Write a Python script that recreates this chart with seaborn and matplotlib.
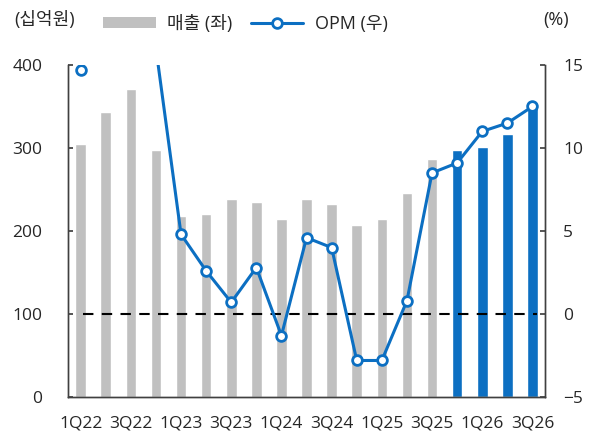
import numpy as np
import pandas as pd
import seaborn as sns
import matplotlib.pyplot as plt
from matplotlib.lines import Line2D
from matplotlib.patches import Patch

# quarters, sales (십억원) and OPM (%)
quarters = ["1Q22", "2Q22", "3Q22", "4Q22", "1Q23", "2Q23", "3Q23", "4Q23",
            "1Q24", "2Q24", "3Q24", "4Q24", "1Q25", "2Q25", "3Q25", "4Q25",
            "1Q26", "2Q26", "3Q26"]
sales = [305, 343, 371, 297, 218, 220, 238, 235, 215, 238, 233, 207, 215,
         246, 287, 297, 301, 317, 349]
opm = [14.7, 19.0, 20.5, 16.0, 4.8, 2.6, 0.7, 2.8, -1.3, 4.6, 4.0, -2.8,
       -2.8, 0.8, 8.5, 9.1, 11.0, 11.5, 12.5]
kind = ["actual"] * 15 + ["forecast"] * 4

sns.set_theme(style="white")
plt.rcParams["font.family"] = ["Open Sans", "Noto Sans CJK KR", "DejaVu Sans"]

GRAY = "#c0c0c0"
BLUE = "#0c6fc2"
AXC = "#404040"

df = pd.DataFrame({"q": quarters, "sales": sales, "opm": opm, "kind": kind})
df["pos"] = np.arange(len(df))

fig = plt.figure(figsize=(5.92, 4.38), dpi=100)
ax = fig.add_axes([0.115, 0.0936, 0.8056, 0.758])

sns.barplot(data=df, x="q", y="sales", hue="kind", palette={"actual": GRAY, "forecast": BLUE},
            dodge=False, width=0.42, legend=False, ax=ax, saturation=1)
ax.set_xlim(-0.5, len(df) - 0.5)
ax.set_ylim(0, 400)
ax.set_yticks(range(0, 401, 100))
ax.set_xlabel("")
ax.set_ylabel("")

ax2 = ax.twinx()
ax2.hlines(0, 0.1, 18.2, colors="black", linestyles=(0, (5, 4)), linewidth=1.5)
sns.lineplot(data=df, x="pos", y="opm", color=BLUE, linewidth=2.2, marker="o",
             markersize=7, markerfacecolor="white", markeredgecolor=BLUE,
             markeredgewidth=2, ax=ax2)
ax2.set_ylim(-5, 15)
ax2.set_yticks(range(-5, 16, 5))
ax2.set_xlim(-0.5, len(df) - 0.5)
ax2.set_xlabel("")
ax2.set_ylabel("")

# x labels every second quarter, tick marks between pairs
ax.set_xticks(range(0, len(df), 2))
ax.set_xticklabels(quarters[::2])
ax.set_xticks(np.arange(1.5, len(df) - 1, 2), minor=True)
ax.tick_params(axis="x", which="major", length=0, labelsize=12.5, pad=13)
ax.tick_params(axis="x", which="minor", length=3.6, direction="in", color=AXC, width=1)
ax.tick_params(axis="y", length=3.6, direction="in", color=AXC, labelsize=12.5, pad=18.5)
ax2.tick_params(axis="y", length=3.6, direction="in", color=AXC, labelsize=12.5, pad=13)

for a in (ax, ax2):
    a.spines["top"].set_visible(False)
    for s in ("left", "right", "bottom"):
        a.spines[s].set_color(AXC)
        a.spines[s].set_linewidth(1)

fig.text(0.024, 0.955, "(십억원)", fontsize=13, va="center")
fig.text(0.917, 0.955, "(%)", fontsize=13, va="center")

handles = [Patch(facecolor=GRAY, edgecolor="none"),
           Line2D([0], [0], color=BLUE, linewidth=2.2, marker="o", markersize=7,
                  markerfacecolor="white", markeredgecolor=BLUE, markeredgewidth=2)]
fig.legend(handles, ["매출 (좌)", "OPM (우)"], loc="center left",
           bbox_to_anchor=(0.147, 0.945), ncol=2, frameon=False, fontsize=13,
           handlelength=2.9, handleheight=0.6, handletextpad=0.65, columnspacing=1.0)

fig.savefig("out.png", dpi=100)
